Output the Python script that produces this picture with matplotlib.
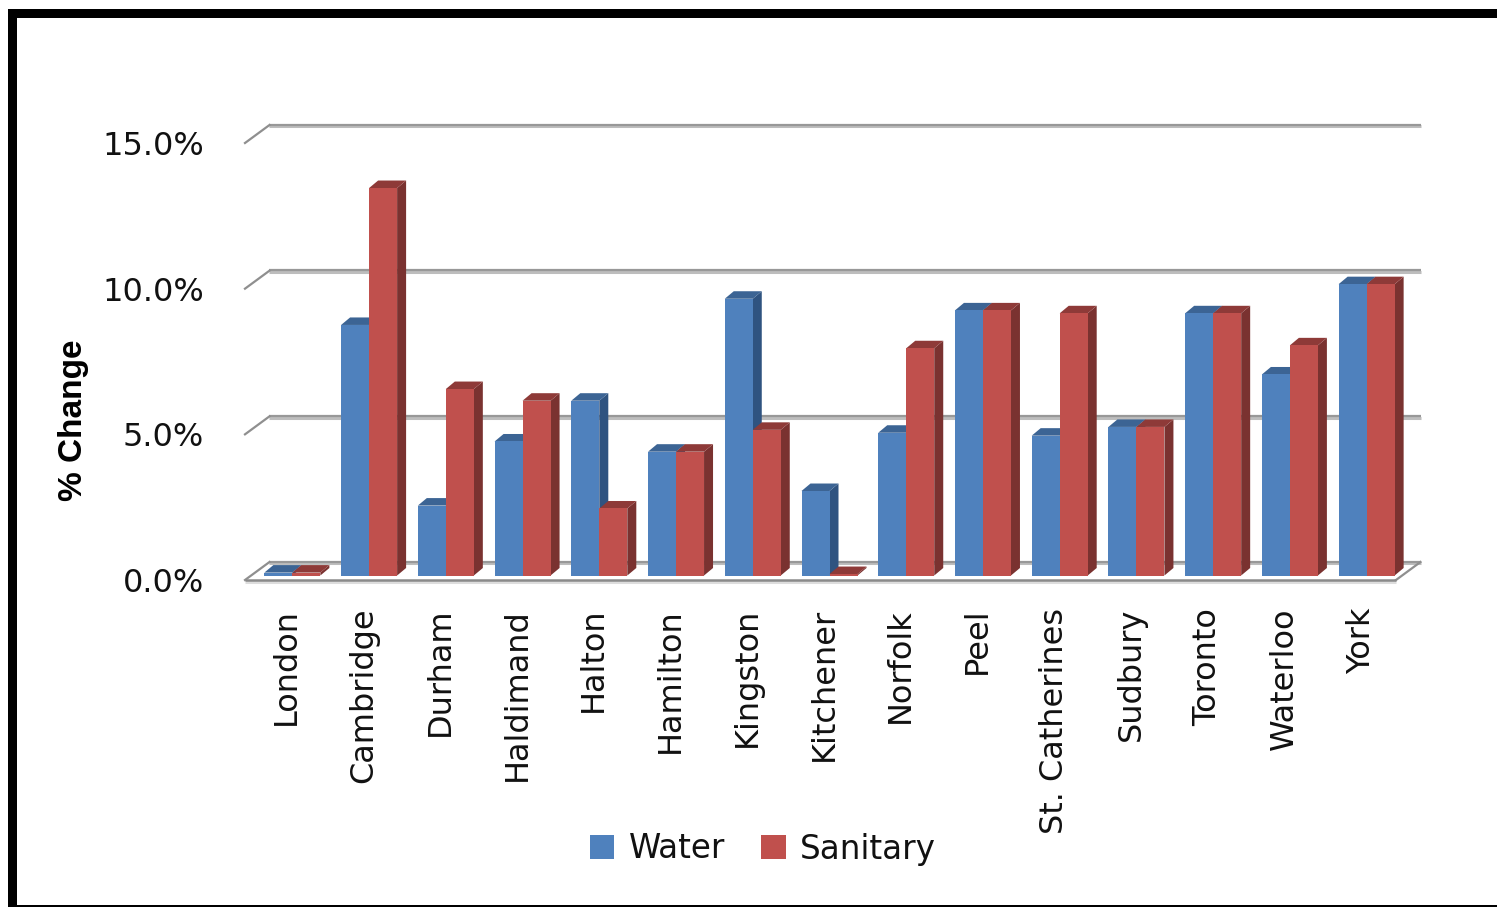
import matplotlib
matplotlib.use("Agg")
import matplotlib.pyplot as plt
from matplotlib.patches import Polygon, Rectangle
from matplotlib.transforms import Affine2D

categories = ["London", "Cambridge", "Durham", "Haldimand", "Halton", "Hamilton", "Kingston",
              "Kitchener", "Norfolk", "Peel", "St. Catherines", "Sudbury", "Toronto", "Waterloo", "York"]
water = [0.1, 8.6, 2.4, 4.6, 6.0, 4.25, 9.5, 2.9, 4.9, 9.1, 4.8, 5.1, 9.0, 6.9, 10.0]
sanitary = [0.1, 13.3, 6.4, 6.0, 2.3, 4.25, 5.0, 0.05, 7.8, 9.1, 9.0, 5.1, 9.0, 7.9, 10.0]
y_ticks = [0, 5, 10, 15]

W, H = 1497, 907
fig = plt.figure(figsize=(W / 100, H / 100), dpi=100, facecolor="white")
L, R, B, T = 245, 1396, 580, 143
ax = fig.add_axes([L / W, 1 - B / H, (R - L) / W, (B - T) / H])
ax.set_xlim(-0.5, 14.5)
ax.set_ylim(0, 15)
ax.patch.set_visible(False)
for s in ax.spines.values():
    s.set_visible(False)

px_x = (R - L) / 15
px_y = (B - T) / 15
wall = ax.transData + Affine2D().translate(24.5, 18)
base = ax.transData + Affine2D().translate(9, 4.5)

# gridlines on the back wall, slanted ticks on the left
for v in y_ticks:
    ax.plot([-0.5, 14.5], [v, v], color="#bdbdbd", lw=2.2, transform=wall + Affine2D().translate(0, -1.2),
            clip_on=False, zorder=1, solid_capstyle="butt")
    ax.plot([-0.5, 14.5], [v, v], color="#989898", lw=1.6, transform=wall + Affine2D().translate(0, 0.4),
            clip_on=False, zorder=1.1, solid_capstyle="butt")
    dx, dy = 24.5 / px_x, 18 / px_y
    ax.plot([-0.5, -0.5 + dx], [v, v + dy], color="#8f8f8f", lw=1.6, clip_on=False, zorder=1.1)

# floor
dx, dy = 24.5 / px_x, 18 / px_y
ax.plot([14.5, 14.5 + dx], [0, dy], color="#8f8f8f", lw=1.6, clip_on=False, zorder=1.1)
ax.plot([-0.5, 14.5], [0, 0], color="#dddddd", lw=2.2, transform=ax.transData + Affine2D().translate(0, -2),
        clip_on=False, zorder=1, solid_capstyle="butt")
ax.plot([-0.5, 14.5], [0, 0], color="#8a8a8a", lw=1.8, clip_on=False, zorder=1.1, solid_capstyle="butt")

# bars with depth
bw = 28 / px_x
ddx, ddy = 9 / px_x, 7.5 / px_y
xs = list(range(len(categories)))
series = [(water, -bw, "#4F81BD", "#2F5380", "#3C6494", "Water"),
          (sanitary, 0.0, "#C0504D", "#7A3230", "#8E3A38", "Sanitary")]
z = 2.0
for i in xs:
    for vals, off, front, side, top, name in series:
        x0 = i + off
        v = vals[i]
        r = x0 + bw
        ax.add_patch(Polygon([(r, 0), (r + ddx, ddy), (r + ddx, v + ddy), (r, v)], closed=True, facecolor=side,
                             edgecolor="none", transform=base, clip_on=False, zorder=z))
        ax.add_patch(Polygon([(x0, v), (x0 + ddx, v + ddy), (r + ddx, v + ddy), (r, v)], closed=True, facecolor=top,
                             edgecolor="none", transform=base, clip_on=False, zorder=z))
        ax.bar(x0, v, width=bw, align="edge", color=front, linewidth=0, transform=base, clip_on=False, zorder=z + 0.01)
        z += 0.02
ax.set_xlim(-0.5, 14.5)
ax.set_ylim(0, 15)

ax.set_yticks(y_ticks)
ax.set_yticklabels([f"{v:.1f}%" for v in y_ticks], fontsize=23, color="#111111", family="DejaVu Sans")
ax.tick_params(axis="y", length=0, pad=29.5)
ax.set_xticks(xs)
ax.set_xticklabels(categories, rotation=90, fontsize=23, color="#111111", family="DejaVu Sans")
ax.tick_params(axis="x", length=0, pad=20)
for lab in ax.get_xticklabels():
    lab.set_transform(lab.get_transform() + Affine2D().translate(3.5, 0))
ax.set_ylabel("% Change", fontsize=24, fontweight="bold", family="Liberation Sans", color="black")
ax.yaxis.set_label_coords((89 - L) / (R - L), (B - 420) / (B - T))

handles = [Rectangle((0, 0), 1, 1, facecolor=series[0][2]), Rectangle((0, 0), 1, 1, facecolor=series[1][2])]
fig.legend(handles, ["Water", "Sanitary"], loc="center", bbox_to_anchor=(763 / W, 1 - 849 / H), ncol=2,
           frameon=False, prop={"family": "DejaVu Sans", "size": 23.5}, handlelength=0.75, handleheight=0.75,
           handletextpad=0.45, columnspacing=1.1, borderpad=0, labelcolor="#111111")

# picture frame
for x, y, w, h in [(8, 9, 9, 896), (8, 9, W - 8, 9), (8, 905, W - 8, 2)]:
    fig.add_artist(Rectangle((x / W, 1 - (y + h) / H), w / W, h / H, facecolor="black", edgecolor="none",
                             transform=fig.transFigure))

fig.savefig("out.png", dpi=100, facecolor="white")
